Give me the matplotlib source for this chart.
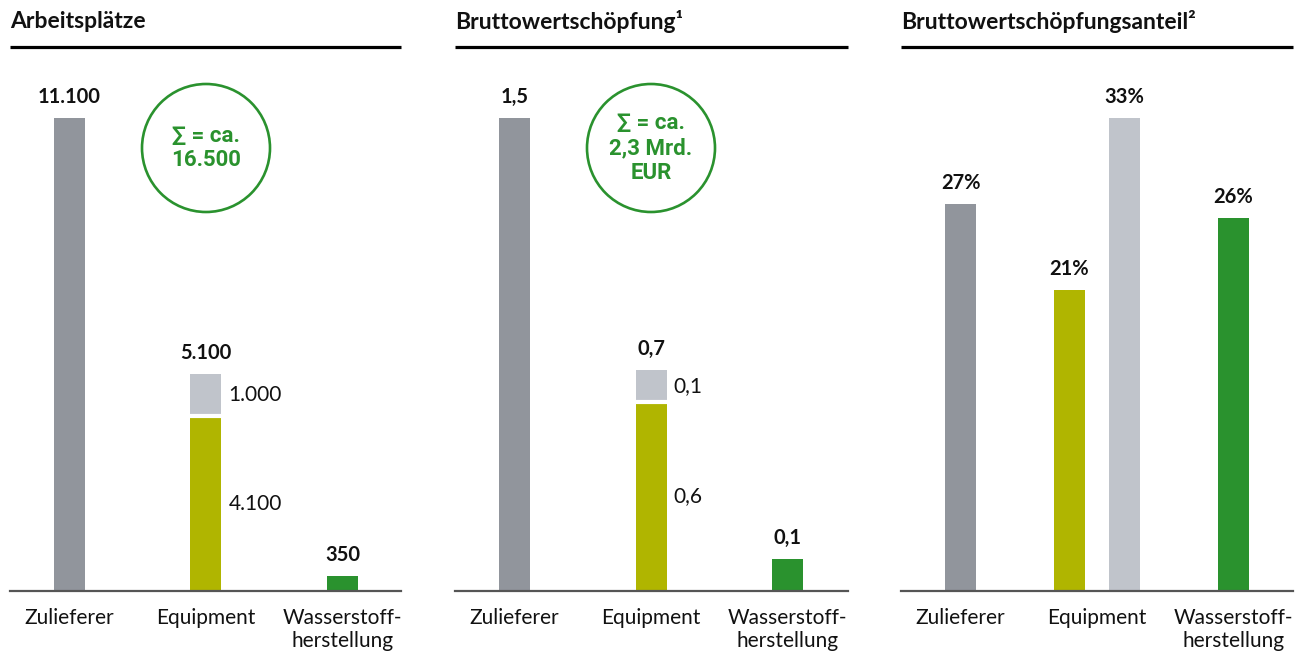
import matplotlib.pyplot as plt
from matplotlib.patches import Ellipse

plt.rcParams['font.family'] = ['Lato', 'DejaVu Sans']

# Farben
GRAU = '#91959c'
HELLGRAU = '#c0c4cb'
OLIV = '#b0b500'
GRUEN = '#2a922e'
LINIE = '#555555'

kategorien = ['Zulieferer', 'Equipment', 'Wasserstoff-\nherstellung']

# Arbeitsplätze
arbeitsplaetze = [11100, 4100, 350]
arbeitsplaetze_equip_zusatz = 1000
arbeitsplaetze_summe = '16.500'

# Bruttowertschöpfung in Mrd. EUR
bws = [1.5, 0.6, 0.1]
bws_equip_zusatz = 0.1
bws_summe = '2,3 Mrd.\nEUR'

# Bruttowertschöpfungsanteil in %
anteil = [27, 21, 26]
anteil_equip_zusatz = 33

W, H = 1307, 655
fig = plt.figure(figsize=(W / 100, H / 100), dpi=100)

BASIS, OBEN = 591, 118
SCHRITT = 136.5
X0 = -59.5 / SCHRITT
BREITE = 31 / SCHRITT


def fmt_tsd(v):
    return f'{v:,}'.replace(',', '.')


def fmt_dez(v):
    return f'{v:.1f}'.replace('.', ',')


def neue_achse(links, rechts, ymax, titel):
    ax = fig.add_axes([links / W, 1 - BASIS / H, (rechts - links) / W, (BASIS - OBEN) / H])
    ax.set_xlim(X0, X0 + (rechts - links) / SCHRITT)
    ax.set_ylim(0, ymax)
    for s in ['top', 'right', 'left']:
        ax.spines[s].set_visible(False)
    ax.spines['bottom'].set_color(LINIE)
    ax.spines['bottom'].set_linewidth(1.6)
    ax.spines['bottom'].set_zorder(5)
    ax.set_yticks([])
    ax.set_xticks(range(len(kategorien)))
    ax.set_xticklabels(kategorien, fontsize=15, color='#111111', linespacing=1.2)
    ax.tick_params(axis='x', length=0, pad=12)
    # Titel und schwarze Linie darunter
    ax.plot([0, 1], [1.150, 1.150], transform=ax.transAxes, color='black', lw=2.3,
            clip_on=False, solid_capstyle='butt')
    ax.text(0, 1.203, titel, transform=ax.transAxes, fontsize=16.5, fontweight='bold',
            ha='left', va='center', color='#111111')
    return ax


def wert_oben(ax, x, y, text):
    ax.annotate(text, (x, y), xytext=(0, 8), textcoords='offset points', ha='center',
                va='bottom', fontsize=14.5, fontweight='bold', color='#111111')


def wert_seite(ax, x, y, text):
    ax.annotate(text, (x + BREITE / 2, y), xytext=(5, 0), textcoords='offset points',
                ha='left', va='center', fontsize=15, color='#111111')


def kreis(ax, x, text):
    # Kreis in Pixeln, damit er rund bleibt
    px, _ = fig.transFigure.inverted().transform(ax.transData.transform((x, 0)))
    cy = 1 - 148 / H
    fig.patches.append(Ellipse((px, cy), 128 / W, 128 / H, transform=fig.transFigure,
                               fill=False, edgecolor=GRUEN, lw=1.9))
    fig.text(px, cy, text, ha='center', va='center', color=GRUEN, fontsize=16,
             fontweight='bold', linespacing=1.15, family=['Roboto', 'DejaVu Sans'])


def gestapelt(ax, werte, zusatz, fmt):
    x = list(range(len(werte)))
    ax.bar(x, werte, width=BREITE, color=[GRAU, OLIV, GRUEN], zorder=2)
    ax.bar(1, zusatz, bottom=werte[1], width=BREITE, color=HELLGRAU, zorder=2)
    # weiße Trennfuge zwischen den beiden Teilen
    ax.hlines(werte[1], 1 - BREITE / 2, 1 + BREITE / 2, color='white', lw=3, zorder=3)
    wert_oben(ax, 0, werte[0], fmt(werte[0]))
    wert_oben(ax, 1, werte[1] + zusatz, fmt(round(werte[1] + zusatz, 1)))
    wert_oben(ax, 2, werte[2], fmt(werte[2]))
    wert_seite(ax, 1, werte[1] / 2, fmt(werte[1]))
    wert_seite(ax, 1, werte[1] + zusatz / 2, fmt(zusatz))


# Panel 1: Arbeitsplätze
ax1 = neue_achse(10, 401, arbeitsplaetze[0], 'Arbeitsplätze')
gestapelt(ax1, arbeitsplaetze, arbeitsplaetze_equip_zusatz, fmt_tsd)
kreis(ax1, 1, '∑ = ca.\n' + arbeitsplaetze_summe)

# Panel 2: Bruttowertschöpfung
ax2 = neue_achse(455, 848, bws[0], 'Bruttowertschöpfung¹')
gestapelt(ax2, bws, bws_equip_zusatz, fmt_dez)
kreis(ax2, 1, '∑ = ca.\n' + bws_summe)

# Panel 3: Anteil
ax3 = neue_achse(901, 1293, anteil_equip_zusatz, 'Bruttowertschöpfungsanteil²')
versatz = 27.5 / SCHRITT
xs = [0, 1 - versatz, 1 + versatz, 2]
werte3 = [anteil[0], anteil[1], anteil_equip_zusatz, anteil[2]]
ax3.bar(xs, werte3, width=BREITE, color=[GRAU, OLIV, HELLGRAU, GRUEN], zorder=2)
for x, v in zip(xs, werte3):
    wert_oben(ax3, x, v, f'{v}%')

fig.savefig('out.png', dpi=100)
